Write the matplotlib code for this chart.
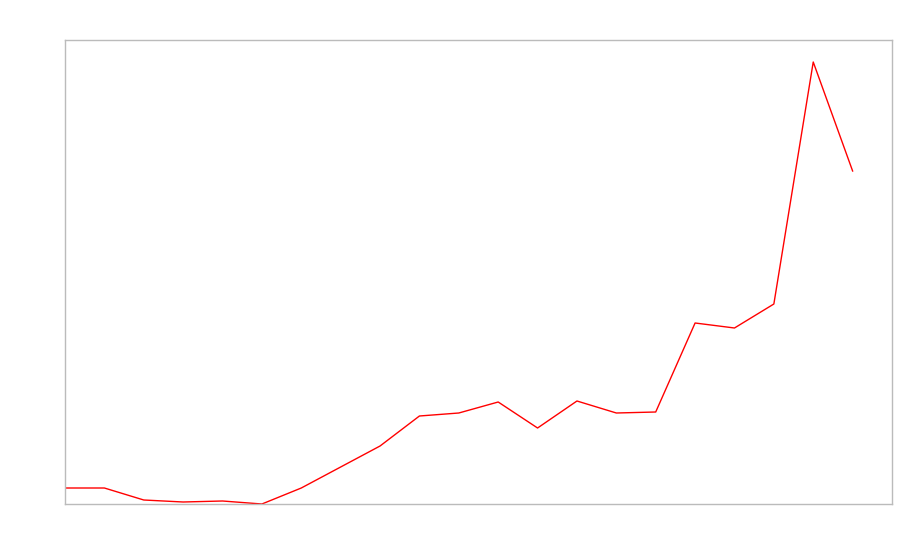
import matplotlib
matplotlib.use("Agg")
import matplotlib.pyplot as plt

x_index = list(range(21))
values = [16, 16, 4, 2, 3, 0, 16, 37, 58, 88, 91, 102, 76, 103, 91, 92, 181, 176, 200, 442, 333]

fig = plt.figure(figsize=(9, 5.6), dpi=100)
ax = fig.add_axes([65/900, 56/560, 827/900, 464/560])
ax.plot(x_index, values, color="red", linewidth=1)
ax.set_xlim(0, 21)
ax.set_ylim(0, 464)
ax.set_xticks([])
ax.set_yticks([])
for s in ax.spines.values():
    s.set_color("#bbbbbb")
    s.set_linewidth(1)
fig.savefig("out.png", dpi=100)
